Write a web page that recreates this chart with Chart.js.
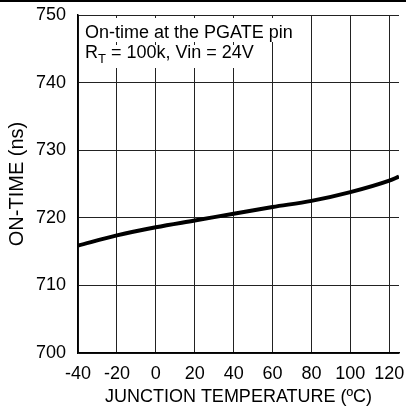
<!DOCTYPE html>
<html>
<head>
<meta charset="utf-8">
<script src="https://cdn.jsdelivr.net/npm/chart.js@4"></script>
<style>
    html, body { margin: 0; padding: 0; background: #fff; }
    #wrap { width: 406px; height: 408px; }
</style>
</head>
<body>
<div id="wrap"><canvas id="myChart" width="406" height="408"></canvas></div>
<script>
'use strict'

const temps = [-40, -20, 0, 20, 40, 60, 80, 100, 120, 125]
const onTime = [715.9, 717.4, 718.6, 719.6, 720.6, 721.6, 722.5, 723.8, 725.5, 726.1]
const xTicks = [-40, -20, 0, 20, 40, 60, 80, 100, 120]
const yTicks = [700, 710, 720, 730, 740, 750]

const FONT = "'Liberation Sans', Arial, sans-serif"

// white boxes + annotation text in the top left corner, and the rule over the page
const notePlugin = {
    id: 'note',
    afterDraw(chart) {
        const ctx = chart.ctx
        const area = chart.chartArea
        ctx.save()

        ctx.fillStyle = '#000'
        ctx.fillRect(0, 0, chart.width, 2)

        ctx.font = '18px ' + FONT
        const line1 = 'On-time at the PGATE pin'
        const w1 = ctx.measureText(line1).width
        const x0 = area.left + 7

        const wR = ctx.measureText('R').width
        ctx.font = '13px ' + FONT
        const wT = ctx.measureText('T').width
        ctx.font = '18px ' + FONT
        const rest = ' = 100k, Vin = 24V'
        const w2 = wR + wT + ctx.measureText(rest).width

        ctx.fillStyle = '#fff'
        ctx.fillRect(x0 - 3, area.top + 3, w1 + 5, 24)
        ctx.fillRect(x0 - 3, area.top + 30, w2 + 5, 23)

        ctx.fillStyle = '#000'
        ctx.textBaseline = 'alphabetic'
        ctx.fillText(line1, x0, area.top + 23)
        ctx.fillText('R', x0, area.top + 43)
        ctx.font = '13px ' + FONT
        ctx.fillText('T', x0 + wR, area.top + 48)
        ctx.font = '18px ' + FONT
        ctx.fillText(rest, x0 + wR + wT, area.top + 43)

        ctx.restore()
    }
}

function Diagramm() {
    const ctx = document.getElementById('myChart').getContext('2d')

    let chart = new Chart(ctx, {
        type: 'line',
        data: {
            labels: temps,
            datasets: [{
                data: temps.map((t, i) => ({ x: t, y: onTime[i] })),
                borderColor: '#000',
                borderWidth: 4,
                pointRadius: 0,
                fill: false,
                cubicInterpolationMode: 'monotone'
            }]
        },
        options: {
            responsive: false,
            animation: false,
            layout: { padding: { top: 15, right: 7, left: 0, bottom: 0 } },
            plugins: {
                legend: { display: false },
                tooltip: { enabled: false }
            },
            scales: {
                x: {
                    type: 'linear',
                    min: -40,
                    max: 125,
                    afterBuildTicks: scale => { scale.ticks = xTicks.map(v => ({ value: v })) },
                    afterFit: scale => {
                        scale.height = 55
                        scale.paddingLeft = 0
                        scale.paddingRight = 0
                    },
                    grid: { color: '#222', lineWidth: 1, drawTicks: false },
                    border: { color: '#000', width: 1.5 },
                    ticks: {
                        color: '#000',
                        padding: 10,
                        maxRotation: 0,
                        autoSkip: false,
                        font: { family: FONT, size: 18 }
                    },
                    title: {
                        display: true,
                        text: 'JUNCTION TEMPERATURE (ºC)',
                        color: '#000',
                        padding: { top: 0, bottom: 0 },
                        font: { family: FONT, size: 18 }
                    }
                },
                y: {
                    min: 700,
                    max: 750,
                    afterBuildTicks: scale => { scale.ticks = yTicks.map(v => ({ value: v })) },
                    afterFit: scale => {
                        scale.width = 78
                        scale.paddingTop = 0
                        scale.paddingBottom = 0
                    },
                    grid: { color: '#222', lineWidth: 1, drawTicks: false },
                    border: { color: '#000', width: 1.5 },
                    ticks: {
                        color: '#000',
                        padding: 12,
                        font: { family: FONT, size: 18 }
                    },
                    title: {
                        display: true,
                        text: 'ON-TIME (ns)',
                        color: '#000',
                        padding: { top: 5, bottom: 0 },
                        font: { family: FONT, size: 20 }
                    }
                }
            }
        },
        plugins: [notePlugin]
    })
    chart.update()
}

document.addEventListener('DOMContentLoaded', () => {
    Diagramm()
})
</script>
</body>
</html>
